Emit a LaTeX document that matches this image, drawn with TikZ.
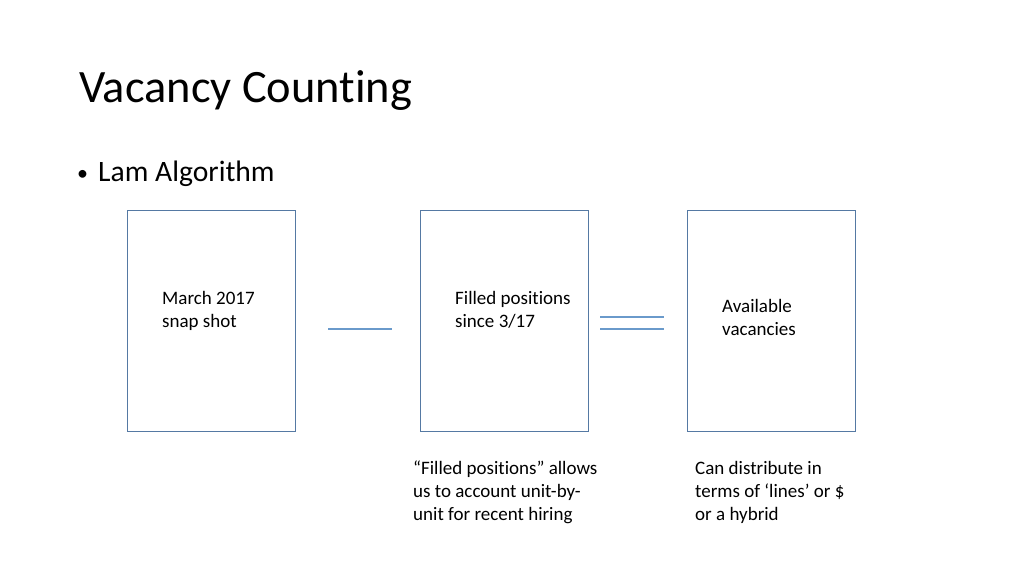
\documentclass[tikz,border=0pt]{standalone}
\usepackage{fontspec}
\setmainfont{Carlito}[Ligatures=NoCommon]
\definecolor{boxline}{HTML}{5579A3}
\definecolor{symline}{HTML}{6A9ACB}
\begin{document}
\begin{tikzpicture}[x=1pt,y=-1pt,
  panel/.style={draw=boxline,line width=1.1pt,minimum width=168pt,minimum height=221pt,anchor=north west,inner sep=0pt},
  btext/.style={anchor=base west,inner sep=0pt,align=left,font=\fontsize{19}{23}\selectfont},
  symbol/.style={draw=symline,line width=1.5pt}]
\useasboundingbox (0,0) rectangle (1024,576);
\node[anchor=base west,inner sep=0pt,font=\fontsize{46.4}{50}\selectfont] (title) at (79,102) {Vacancy Counting};
\node[anchor=base west,inner sep=0pt,font=\fontsize{29.6}{32}\selectfont] (bullet) at (77,181) {\makebox[21pt][l]{\fontsize{22}{22}\selectfont\raisebox{1pt}{\textbullet}}Lam Algorithm};
\node[panel] (b1) at (127,210) {};
\node[panel] (b2) at (420,210) {};
\node[panel] (b3) at (687,210) {};
\node[btext] (t1) at (162,327) {March 2017\\snap shot};
\node[btext] (t2) at (455,327) {Filled positions\\since 3/17};
\node[btext] (t3) at (722,335) {Available\\vacancies};
\node[btext] (n2) at (413,520) {“Filled positions” allows\\us to account unit-by-\\unit for recent hiring};
\node[btext] (n3) at (695,520) {Can distribute in\\terms of ‘lines’ or \$\\or a hybrid};
\coordinate (m1) at (328,329);
\coordinate (m2) at (392,329);
\draw[symbol] (m1) -- (m2);
\coordinate (e1) at (600,317);
\coordinate (e2) at (664,317);
\coordinate (e3) at (600,329);
\coordinate (e4) at (664,329);
\draw[symbol] (e1) -- (e2);
\draw[symbol] (e3) -- (e4);
\end{tikzpicture}
\end{document}
